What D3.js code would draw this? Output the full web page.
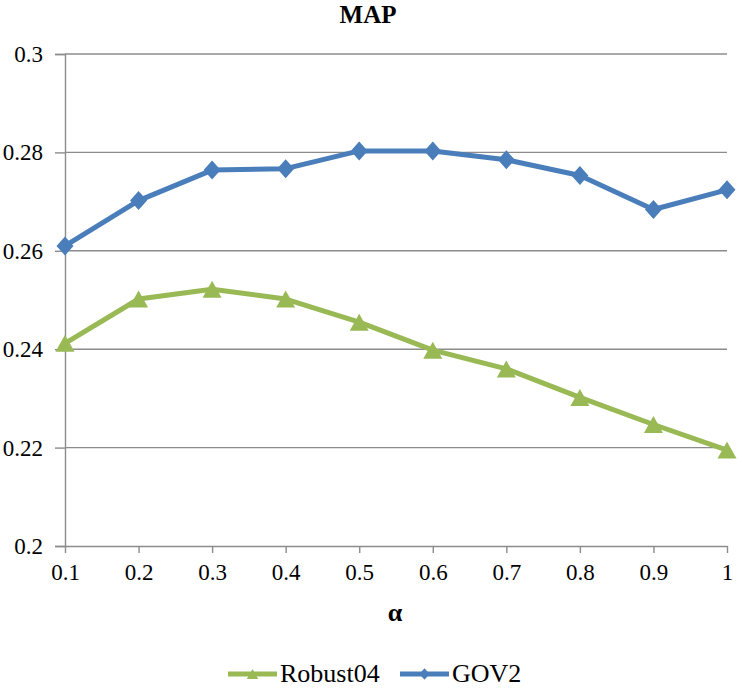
<!DOCTYPE html>
<html><head><meta charset="utf-8">
<script src="https://cdn.jsdelivr.net/npm/d3@7/dist/d3.min.js"></script>
<style>body{margin:0;background:#fff}svg{display:block}</style>
</head><body>
<svg id="c" width="737" height="695"></svg>
<script>
const alphas = ["0.1","0.2","0.3","0.4","0.5","0.6","0.7","0.8","0.9","1"];
const robust04 = [0.2412,0.2502,0.2522,0.2502,0.2455,0.2398,0.2360,0.2302,0.2247,0.2195];
const gov2 = [0.2610,0.2702,0.2764,0.2767,0.2803,0.2803,0.2785,0.2753,0.2684,0.2724];
const yTicks = [0.2,0.22,0.24,0.26,0.28,0.3];
const yTickLabels = ["0.2","0.22","0.24","0.26","0.28","0.3"];

(function(){
const svg = d3.select("#c");
const FONT = "Liberation Serif";
const pLeft = 65, pRight = 727, pTop = 54, pBottom = 546;
const x = d3.scalePoint().domain(alphas).range([pLeft, pRight]);
const y = d3.scaleLinear().domain([0.2, 0.3]).range([pBottom, pTop]);
const grey = "#8c8c8c";

const diamond = k => ({draw(ctx){ const w = 8.5*k, h = 9.5*k;
  ctx.moveTo(0,-h); ctx.lineTo(w,0); ctx.lineTo(0,h); ctx.lineTo(-w,0); ctx.closePath(); }});
const triangle = k => ({draw(ctx){ const w = 9.5*k, h = 8.5*k;
  ctx.moveTo(0,-h); ctx.lineTo(w,h); ctx.lineTo(-w,h); ctx.closePath(); }});

// title
svg.append("text").attr("x", 368).attr("y", 23).attr("text-anchor", "middle")
  .style("font-family", FONT).style("font-weight", "bold").style("font-size", "25px").text("MAP");

// gridlines
svg.append("g").selectAll("line").data(yTicks.slice(1)).join("line")
  .attr("x1", pLeft).attr("x2", pRight).attr("y1", d => y(d)).attr("y2", d => y(d))
  .attr("stroke", grey).attr("stroke-width", 1.4);

// y axis
const yAxis = svg.append("g").attr("transform", `translate(${pLeft},0)`)
  .call(d3.axisLeft(y).tickValues(yTicks).tickFormat((d,i) => yTickLabels[i]).tickSize(10).tickPadding(12));
yAxis.attr("font-family", null).attr("font-size", null);
yAxis.select(".domain").attr("stroke", grey).attr("stroke-width", 1.4);
yAxis.selectAll(".tick line").attr("stroke", grey).attr("stroke-width", 1.4);
yAxis.selectAll("text").style("font-family", FONT).style("font-size", "23px").attr("fill", "#000").attr("dy", "0.33em");

// x axis
const xAxis = svg.append("g").attr("transform", `translate(0,${pBottom})`)
  .call(d3.axisBottom(x).tickSize(7).tickPadding(11).tickSizeOuter(0));
xAxis.attr("font-family", null).attr("font-size", null);
xAxis.select(".domain").attr("stroke", grey).attr("stroke-width", 1.4);
xAxis.selectAll(".tick line").attr("stroke", grey).attr("stroke-width", 1.4);
xAxis.selectAll("text").style("font-family", FONT).style("font-size", "23px").attr("fill", "#000");

svg.append("text").attr("x", 395).attr("y", 621).attr("text-anchor", "middle")
  .style("font-family", FONT).style("font-weight", "bold").style("font-size", "26px").text("α");

const series = [
  {name: "GOV2", values: gov2, color: "#4A7EBB", sym: diamond},
  {name: "Robust04", values: robust04, color: "#98B954", sym: triangle}
];
const line = d3.line().x((d,i) => x(alphas[i])).y(d => y(d));
series.forEach(s => {
  svg.append("path").datum(s.values).attr("d", line).attr("fill", "none")
    .attr("stroke", s.color).attr("stroke-width", 5).attr("stroke-linejoin", "round");
  const sym = d3.symbol().type(s.sym(1));
  svg.append("g").selectAll("path").data(s.values).join("path")
    .attr("d", sym)
    .attr("transform", (d,i) => `translate(${x(alphas[i])},${y(d)})`)
    .attr("fill", s.color);
});

// legend
const legend = [
  {name: "Robust04", color: "#98B954", sym: triangle, x0: 228},
  {name: "GOV2", color: "#4A7EBB", sym: diamond, x0: 400}
];
legend.forEach(l => {
  const g = svg.append("g").attr("transform", `translate(${l.x0},674)`);
  g.append("line").attr("x1", 0).attr("x2", 49).attr("y1", 0).attr("y2", 0)
    .attr("stroke", l.color).attr("stroke-width", 5);
  g.append("path").attr("d", d3.symbol().type(l.sym(0.6))).attr("transform", "translate(24.5,0)").attr("fill", l.color);
  g.append("text").attr("x", 52).attr("y", 8).style("font-family", FONT).style("font-size", "26px").text(l.name);
});
})();
</script>
</body></html>
